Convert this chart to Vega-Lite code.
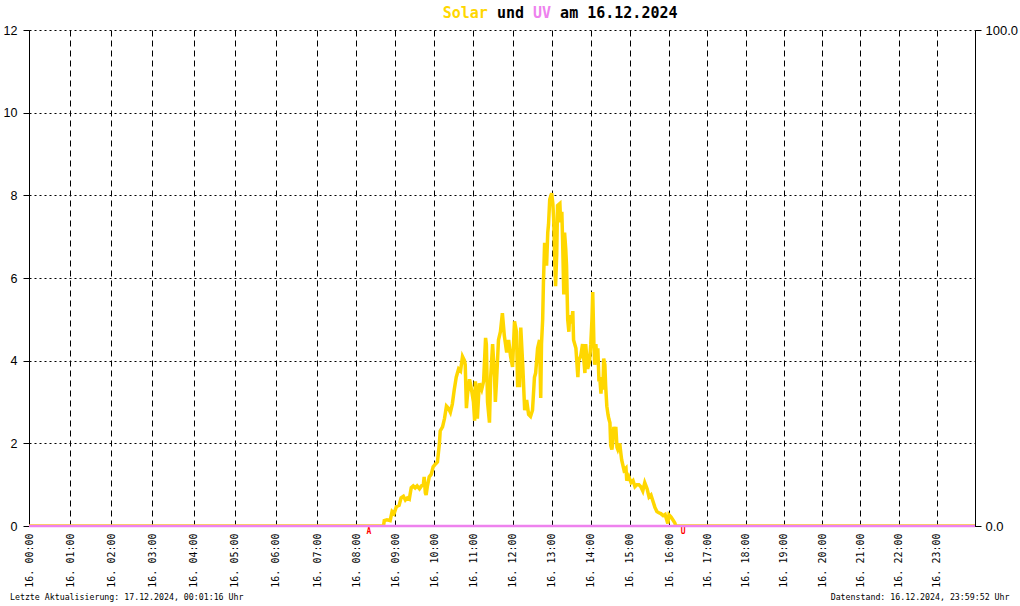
{
  "$schema": "https://vega.github.io/schema/vega-lite/v6.json",
  "autosize": "none",
  "width": 946,
  "height": 496,
  "padding": {"left": 29, "top": 30, "right": 45, "bottom": 80},
  "background": "white",
  "config": {"view": {"stroke": null}},
  "datasets": {
    "solar": [
      {"h": 0, "v": 0}, {"h": 8.7, "v": 0}, {"h": 8.72, "v": 0.13}, {"h": 8.79, "v": 0.15}, {"h": 8.87, "v": 0.13},
      {"h": 8.92, "v": 0.35}, {"h": 8.97, "v": 0.3}, {"h": 9.03, "v": 0.47}, {"h": 9.1, "v": 0.5}, {"h": 9.15, "v": 0.68},
      {"h": 9.21, "v": 0.72}, {"h": 9.26, "v": 0.63}, {"h": 9.31, "v": 0.68}, {"h": 9.36, "v": 0.65}, {"h": 9.41, "v": 0.93},
      {"h": 9.46, "v": 0.97}, {"h": 9.51, "v": 0.92}, {"h": 9.56, "v": 0.97}, {"h": 9.62, "v": 0.9}, {"h": 9.67, "v": 0.97},
      {"h": 9.72, "v": 1.0}, {"h": 9.74, "v": 1.19}, {"h": 9.77, "v": 0.8}, {"h": 9.79, "v": 0.75}, {"h": 9.82, "v": 0.95},
      {"h": 9.87, "v": 1.19}, {"h": 9.92, "v": 1.25}, {"h": 9.97, "v": 1.43}, {"h": 10.03, "v": 1.5}, {"h": 10.08, "v": 1.55},
      {"h": 10.13, "v": 2.0}, {"h": 10.15, "v": 2.3}, {"h": 10.21, "v": 2.4}, {"h": 10.26, "v": 2.6}, {"h": 10.31, "v": 2.9},
      {"h": 10.36, "v": 2.85}, {"h": 10.41, "v": 2.75}, {"h": 10.46, "v": 2.95}, {"h": 10.51, "v": 3.3}, {"h": 10.56, "v": 3.6},
      {"h": 10.62, "v": 3.8}, {"h": 10.67, "v": 3.75}, {"h": 10.72, "v": 4.1}, {"h": 10.77, "v": 4.0}, {"h": 10.79, "v": 3.9},
      {"h": 10.82, "v": 2.85}, {"h": 10.85, "v": 3.2}, {"h": 10.9, "v": 3.55}, {"h": 10.95, "v": 3.3}, {"h": 11.0, "v": 3.0},
      {"h": 11.03, "v": 2.55}, {"h": 11.05, "v": 3.5}, {"h": 11.1, "v": 2.6}, {"h": 11.15, "v": 3.45}, {"h": 11.21, "v": 3.3},
      {"h": 11.26, "v": 3.5}, {"h": 11.31, "v": 4.55}, {"h": 11.33, "v": 4.4}, {"h": 11.36, "v": 3.0}, {"h": 11.41, "v": 2.5},
      {"h": 11.44, "v": 3.6}, {"h": 11.49, "v": 4.4}, {"h": 11.54, "v": 3.6}, {"h": 11.56, "v": 3.0}, {"h": 11.59, "v": 3.5},
      {"h": 11.64, "v": 4.5}, {"h": 11.69, "v": 4.7}, {"h": 11.74, "v": 5.15}, {"h": 11.79, "v": 4.6}, {"h": 11.85, "v": 4.2},
      {"h": 11.9, "v": 4.5}, {"h": 11.95, "v": 4.1}, {"h": 12.0, "v": 3.85}, {"h": 12.05, "v": 4.95}, {"h": 12.1, "v": 4.7},
      {"h": 12.13, "v": 3.4}, {"h": 12.18, "v": 3.4}, {"h": 12.21, "v": 4.8}, {"h": 12.26, "v": 3.9}, {"h": 12.31, "v": 2.8},
      {"h": 12.36, "v": 3.05}, {"h": 12.41, "v": 2.7}, {"h": 12.46, "v": 2.65}, {"h": 12.51, "v": 2.8}, {"h": 12.56, "v": 3.6},
      {"h": 12.59, "v": 3.7}, {"h": 12.64, "v": 4.3}, {"h": 12.69, "v": 4.5}, {"h": 12.72, "v": 3.1}, {"h": 12.74, "v": 4.4},
      {"h": 12.77, "v": 5.0}, {"h": 12.79, "v": 5.9}, {"h": 12.82, "v": 6.85}, {"h": 12.87, "v": 6.3}, {"h": 12.9, "v": 7.1},
      {"h": 12.92, "v": 7.3}, {"h": 12.95, "v": 7.9}, {"h": 13.0, "v": 8.05}, {"h": 13.03, "v": 7.8}, {"h": 13.05, "v": 7.45},
      {"h": 13.08, "v": 6.4}, {"h": 13.1, "v": 5.8}, {"h": 13.13, "v": 6.6}, {"h": 13.15, "v": 7.75}, {"h": 13.21, "v": 7.8},
      {"h": 13.23, "v": 7.35}, {"h": 13.26, "v": 7.6}, {"h": 13.28, "v": 6.9}, {"h": 13.31, "v": 5.6}, {"h": 13.33, "v": 7.1},
      {"h": 13.36, "v": 6.7}, {"h": 13.38, "v": 6.3}, {"h": 13.41, "v": 5.0}, {"h": 13.44, "v": 4.7}, {"h": 13.46, "v": 5.1},
      {"h": 13.51, "v": 4.9}, {"h": 13.54, "v": 5.2}, {"h": 13.56, "v": 4.5}, {"h": 13.62, "v": 4.3}, {"h": 13.67, "v": 3.6},
      {"h": 13.69, "v": 4.0}, {"h": 13.74, "v": 4.1}, {"h": 13.79, "v": 4.4}, {"h": 13.85, "v": 3.7}, {"h": 13.87, "v": 4.4},
      {"h": 13.92, "v": 3.8}, {"h": 13.97, "v": 4.0}, {"h": 14.0, "v": 4.4}, {"h": 14.03, "v": 5.0}, {"h": 14.05, "v": 5.66},
      {"h": 14.08, "v": 4.4}, {"h": 14.1, "v": 3.9}, {"h": 14.13, "v": 4.4}, {"h": 14.15, "v": 4.1}, {"h": 14.18, "v": 4.3},
      {"h": 14.21, "v": 3.5}, {"h": 14.23, "v": 3.6}, {"h": 14.26, "v": 3.2}, {"h": 14.28, "v": 3.5}, {"h": 14.31, "v": 3.3},
      {"h": 14.33, "v": 4.05}, {"h": 14.36, "v": 3.9}, {"h": 14.38, "v": 3.4}, {"h": 14.41, "v": 2.9}, {"h": 14.44, "v": 2.7},
      {"h": 14.46, "v": 2.6}, {"h": 14.49, "v": 2.5}, {"h": 14.51, "v": 1.95}, {"h": 14.54, "v": 1.85}, {"h": 14.56, "v": 2.0},
      {"h": 14.59, "v": 2.4}, {"h": 14.62, "v": 2.2}, {"h": 14.64, "v": 2.4}, {"h": 14.67, "v": 1.9}, {"h": 14.69, "v": 1.85},
      {"h": 14.74, "v": 2.0}, {"h": 14.77, "v": 1.75}, {"h": 14.79, "v": 1.6}, {"h": 14.85, "v": 1.35}, {"h": 14.9, "v": 1.4},
      {"h": 14.92, "v": 1.1}, {"h": 14.97, "v": 1.2}, {"h": 15.03, "v": 1.05}, {"h": 15.08, "v": 1.1}, {"h": 15.13, "v": 0.95},
      {"h": 15.18, "v": 1.0}, {"h": 15.23, "v": 1.0}, {"h": 15.28, "v": 0.95}, {"h": 15.33, "v": 0.85}, {"h": 15.38, "v": 1.05},
      {"h": 15.44, "v": 0.9}, {"h": 15.49, "v": 0.7}, {"h": 15.54, "v": 0.75}, {"h": 15.59, "v": 0.6}, {"h": 15.64, "v": 0.45},
      {"h": 15.69, "v": 0.35}, {"h": 15.74, "v": 0.32}, {"h": 15.79, "v": 0.3}, {"h": 15.85, "v": 0.25}, {"h": 15.9, "v": 0.28},
      {"h": 15.95, "v": 0.12}, {"h": 15.97, "v": 0.06}, {"h": 16.0, "v": 0.27}, {"h": 16.05, "v": 0.22}, {"h": 16.1, "v": 0.15},
      {"h": 16.15, "v": 0.08}, {"h": 16.18, "v": 0}, {"h": 24, "v": 0}
    ],
    "uv": [
      {"h": 0, "uv": 0}, {"h": 6, "uv": 0}, {"h": 12, "uv": 0}, {"h": 18, "uv": 0}, {"h": 24, "uv": 0}
    ],
    "sun": [
      {"h": 8.33, "label": "A"}, {"h": 16.37, "label": "U"}
    ]
  },
  "layer": [
    {
      "layer": [
        {
          "data": {"name": "solar"},
          "mark": {"type": "line", "color": "#FFD700", "strokeWidth": 3.5, "interpolate": "linear", "clip": true},
          "encoding": {
            "x": {
              "field": "h", "type": "quantitative",
              "scale": {"type": "linear", "domain": [0, 7, 16, 24], "range": [0, 288, 640, 946], "nice": false, "zero": false},
              "axis": {
                "title": null,
                "values": [0, 1, 2, 3, 4, 5, 6, 7, 8, 9, 10, 11, 12, 13, 14, 15, 16, 17, 18, 19, 20, 21, 22, 23],
                "labelExpr": "'16. ' + (datum.value < 10 ? '0' : '') + datum.value + ':00'",
                "labelAngle": -90,
                "labelFlush": false,
                "labelOverlap": false,
                "labelFont": "DejaVu Sans Mono",
                "labelFontSize": 10,
                "labelColor": "black",
                "labelPadding": 7,
                "ticks": false,
                "domain": true,
                "domainColor": "black",
                "grid": true,
                "gridColor": "black",
                "gridDash": [6, 4],
                "gridOpacity": 1,
                "gridWidth": 1
              }
            },
            "y": {
              "field": "v", "type": "quantitative",
              "scale": {"domain": [0, 12], "nice": false},
              "axis": {
                "title": null,
                "orient": "left",
                "values": [0, 2, 4, 6, 8, 10, 12],
                "labelFont": "Liberation Sans",
                "labelFontSize": 12.5,
                "labelColor": "black",
                "labelPadding": 6,
                "tickSize": 6,
                "tickColor": "black",
                "domainColor": "black",
                "grid": true,
                "gridColor": "black",
                "gridDash": [2, 3],
                "gridOpacity": 1,
                "gridWidth": 1
              }
            }
          }
        },
        {
          "data": {"name": "sun"},
          "mark": {"type": "text", "color": "#FF0000", "font": "DejaVu Sans Mono", "fontSize": 8, "fontWeight": "bold", "baseline": "top", "align": "center", "dy": 2},
          "encoding": {
            "x": {"field": "h", "type": "quantitative"},
            "y": {"datum": 0},
            "text": {"field": "label"}
          }
        }
      ]
    },
    {
      "data": {"name": "uv"},
      "mark": {"type": "line", "color": "#EE82EE", "strokeWidth": 2.5},
      "encoding": {
        "x": {"field": "h", "type": "quantitative"},
        "y": {
          "field": "uv", "type": "quantitative",
          "scale": {"domain": [0, 100], "nice": false},
          "axis": {
            "title": null,
            "orient": "right",
            "values": [0, 100],
            "format": ".1f",
            "labelFont": "Liberation Sans",
            "labelFontSize": 13,
            "labelColor": "black",
            "labelPadding": 4,
            "tickSize": 6,
            "tickColor": "black",
            "domainColor": "black",
            "grid": false
          }
        }
      }
    },
    {
      "data": {"values": [{}]},
      "mark": {"type": "text", "text": "Solar", "x": 413.7, "y": -17, "align": "left", "baseline": "middle", "font": "DejaVu Sans Mono", "fontSize": 15, "fontWeight": "bold", "color": "#FFD700"},
      "encoding": {}
    },
    {
      "data": {"values": [{}]},
      "mark": {"type": "text", "text": "und", "x": 467.9, "y": -17, "align": "left", "baseline": "middle", "font": "DejaVu Sans Mono", "fontSize": 15, "fontWeight": "bold", "color": "black"},
      "encoding": {}
    },
    {
      "data": {"values": [{}]},
      "mark": {"type": "text", "text": "UV", "x": 504.0, "y": -17, "align": "left", "baseline": "middle", "font": "DejaVu Sans Mono", "fontSize": 15, "fontWeight": "bold", "color": "#EE82EE"},
      "encoding": {}
    },
    {
      "data": {"values": [{}]},
      "mark": {"type": "text", "text": "am 16.12.2024", "x": 531.1, "y": -17, "align": "left", "baseline": "middle", "font": "DejaVu Sans Mono", "fontSize": 15, "fontWeight": "bold", "color": "black"},
      "encoding": {}
    },
    {
      "data": {"values": [{}]},
      "mark": {"type": "text", "text": "Letzte Aktualisierung: 17.12.2024, 00:01:16 Uhr", "x": -19, "y": 568, "align": "left", "baseline": "middle", "font": "DejaVu Sans Mono", "fontSize": 8.25, "color": "black"},
      "encoding": {}
    },
    {
      "data": {"values": [{}]},
      "mark": {"type": "text", "text": "Datenstand: 16.12.2024, 23:59:52 Uhr", "x": 980.5, "y": 568, "align": "right", "baseline": "middle", "font": "DejaVu Sans Mono", "fontSize": 8.25, "color": "black"},
      "encoding": {}
    }
  ],
  "resolve": {"scale": {"y": "independent"}}
}
